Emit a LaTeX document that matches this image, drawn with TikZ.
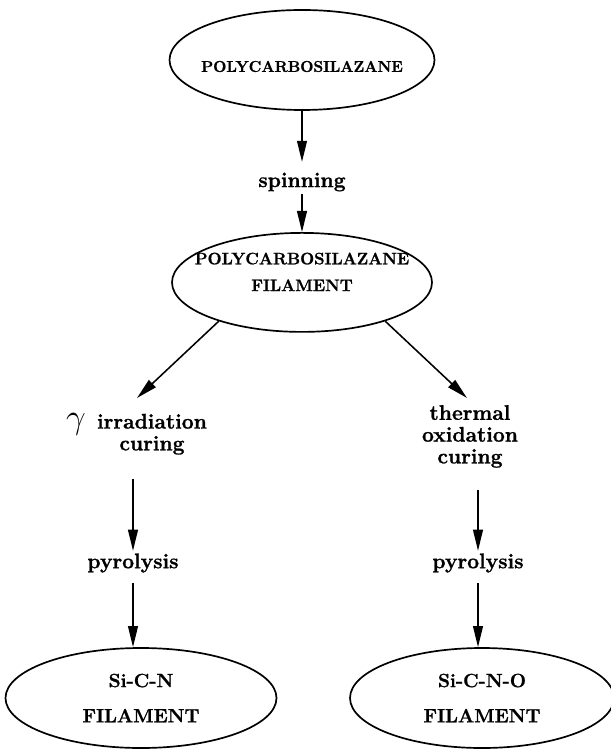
\documentclass[tikz,border=0pt]{standalone}
\usepackage{fontspec}
\setmainfont{Latin Modern Roman}[BoldFeatures={FakeBold=1.2}]
\usetikzlibrary{shapes.geometric, arrows.meta, calc}

\begin{document}
\begin{tikzpicture}[font=\bfseries,
  stage/.style={ellipse, draw, line width=1.2pt, inner sep=0pt, inner xsep=-0.4cm, align=center},
  lbl/.style={inner sep=0pt, outer sep=2pt, align=center, font=\bfseries\fontsize{15}{15.5}\selectfont},
  arr/.style={-{Triangle[length=15pt, width=7pt]}, line width=1.1pt}]
  \useasboundingbox (0,0) rectangle (15.25,-18.775);
  \node[stage, minimum width=6.625cm, minimum height=2.5cm, text height=17pt, font=\bfseries\fontsize{11.1}{12}\selectfont] (a) at (7.55,-1.5) {POLYCARBOSILAZANE};
  \node[lbl] (s) at (7.55,-4.55) {spinning};
  \node[stage, minimum width=6.5cm, minimum height=2.475cm, text depth=15pt, font=\bfseries\fontsize{11.8}{19}\selectfont] (b) at (7.55,-7.06) {POLYCARBOSILAZANE\\FILAMENT};
  \node[lbl] (g) at (3.8,-10.85) {\llap{\mdseries\fontsize{24}{24}\selectfont$\gamma$\hspace{8pt}}irradiation\\curing};
  \node[lbl] (t) at (11.75,-10.91) {thermal\\oxidation\\curing};
  \node[lbl] (p1) at (3.325,-14.075) {pyrolysis};
  \node[lbl] (p2) at (11.95,-14.075) {pyrolysis};
  \node[stage, minimum width=6.775cm, minimum height=2.5cm, font=\bfseries\fontsize{13.6}{25}\selectfont] (c) at (3.525,-17.45) {Si-C-N\\FILAMENT};
  \node[stage, minimum width=6.6cm, minimum height=2.5cm, font=\bfseries\fontsize{13.6}{25}\selectfont] (d) at (12.05,-17.45) {Si-C-N-O\\FILAMENT};
  \coordinate (gt) at (3.425,-9.95);
  \coordinate (tt) at (11.675,-9.95);
  \draw[arr, shorten >=0.2cm] (a) -- (s);
  \draw[arr] (s) -- (b);
  \draw[arr] (b.205) -- (gt);
  \draw[arr] (b.335) -- (tt);
  \draw[arr, shorten <=0.55cm] (g.south -| p1) -- (p1);
  \draw[arr, shorten <=0.2cm] (p1) -- (p1 |- c.north);
  \draw[arr, shorten <=0.5cm] (t.south -| p2) -- (p2);
  \draw[arr, shorten <=0.2cm] (p2) -- (p2 |- d.north);
\end{tikzpicture}
\end{document}
